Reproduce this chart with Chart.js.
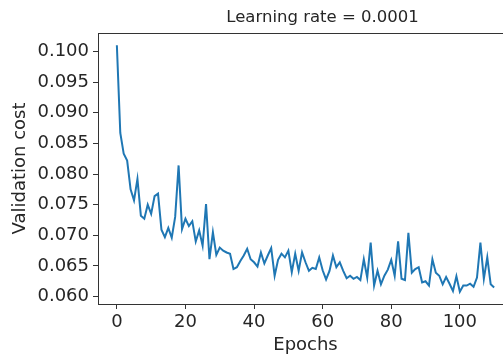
<!DOCTYPE html>
<html>
<head>
<meta charset="utf-8">
<script src="https://cdn.jsdelivr.net/npm/chart.js@4"></script>
<style>
  body { margin: 0; background: #fff; }
  #wrap { width: 503px; height: 356px; overflow: hidden; position: relative; }
  canvas { position: absolute; left: 0; top: 0; }
</style>
</head>
<body>
<div id="wrap"><canvas id="cost_chart" width="520" height="356"></canvas></div>
<script>
// validation cost per epoch, lr = 0.0001
let epochs = [];
for (let i = 0; i <= 110; i++) epochs.push(i);

let cost = [
  0.1010, 0.0867, 0.0833, 0.0822, 0.0775, 0.0757, 0.0792, 0.0732, 0.0727, 0.0750,
  0.0735, 0.0764, 0.0768, 0.0709, 0.0697, 0.0712, 0.0696, 0.0730, 0.0814, 0.0710,
  0.0727, 0.0715, 0.0723, 0.0690, 0.0708, 0.0683, 0.0751, 0.0661, 0.0705, 0.0668,
  0.0680, 0.0675, 0.0672, 0.0670, 0.0645, 0.0648, 0.0658, 0.0667, 0.0678, 0.0661,
  0.0656, 0.0649, 0.0672, 0.0654, 0.0667, 0.0679, 0.0634, 0.0660, 0.0670, 0.0664,
  0.0675, 0.0640, 0.0670, 0.0642, 0.0672, 0.0656, 0.0642, 0.0647, 0.0645, 0.0664,
  0.0643, 0.0628, 0.0642, 0.0667, 0.0648, 0.0656, 0.0642, 0.0630, 0.0634, 0.0629,
  0.0632, 0.0627, 0.0661, 0.0631, 0.0688, 0.0618, 0.0642, 0.0620, 0.0634, 0.0644,
  0.0660, 0.0634, 0.0690, 0.0629, 0.0627, 0.0704, 0.0639, 0.0645, 0.0648, 0.0623,
  0.0625, 0.0618, 0.0661, 0.0639, 0.0634, 0.0620, 0.0632, 0.0621, 0.0609, 0.0633,
  0.0608, 0.0618, 0.0618, 0.0621, 0.0616, 0.0631, 0.0688, 0.0629, 0.0664, 0.0620,
  0.0615
];

let xTicks = [0, 20, 40, 60, 80, 100];
let yTicks = [0.060, 0.065, 0.070, 0.075, 0.080, 0.085, 0.090, 0.095, 0.100];
let titleText = 'Learning rate = 0.0001';

// matplotlib-like 5% margins around the data
let xPad = (epochs[epochs.length - 1] - epochs[0]) * 0.05;
let yMin = Math.min(...cost), yMax = Math.max(...cost);
let yPad = (yMax - yMin) * 0.05;

const FONT = "'DejaVu Sans', sans-serif";
const INK = '#262626';
const SPINE = '#333';

// top/right spines plus the title above the axes
const frameBox = {
  id: 'frameBox',
  afterDraw(chart) {
    const {ctx, chartArea} = chart;
    ctx.save();
    ctx.strokeStyle = SPINE;
    ctx.lineWidth = 1;
    ctx.beginPath();
    ctx.moveTo(chartArea.left, chartArea.top + 0.5);
    ctx.lineTo(chartArea.right, chartArea.top + 0.5);
    ctx.lineTo(chartArea.right, chartArea.bottom);
    ctx.stroke();

    ctx.fillStyle = INK;
    ctx.font = "16.5px " + FONT;
    ctx.textAlign = 'center';
    ctx.textBaseline = 'middle';
    ctx.fillText(titleText, (chartArea.left + chartArea.right) / 2 + 17, 18);
    ctx.restore();
  }
};

let ctx = document.getElementById('cost_chart').getContext('2d');
let chart = new Chart(ctx, {
  type: 'line',
  data: {
    datasets: [{
      data: epochs.map((e, i) => ({x: e, y: cost[i]})),
      borderColor: '#1f77b4',
      borderWidth: 2,
      pointRadius: 0,
      tension: 0,
      fill: false
    }]
  },
  options: {
    responsive: false,
    animation: false,
    layout: { padding: { left: 0, right: 7, top: 33, bottom: 0 } },
    plugins: {
      legend: { display: false },
      tooltip: { enabled: false },
      title: { display: false }
    },
    scales: {
      x: {
        type: 'linear',
        min: epochs[0] - xPad,
        max: epochs[epochs.length - 1] + xPad,
        afterFit: s => { s.height = 52; },
        afterBuildTicks: s => { s.ticks = xTicks.map(v => ({value: v})); },
        grid: { drawOnChartArea: false, drawTicks: true, tickLength: 5, color: SPINE },
        border: { display: true, color: SPINE, width: 1 },
        ticks: { color: INK, padding: 3, maxRotation: 0, font: { family: FONT, size: 18 } },
        title: {
          display: true, text: 'Epochs', color: INK,
          font: { family: FONT, size: 18 }, padding: { top: 2, bottom: 0 }
        }
      },
      y: {
        type: 'linear',
        min: yMin - yPad,
        max: yMax + yPad,
        afterFit: s => { s.width = 98; },
        afterBuildTicks: s => { s.ticks = yTicks.map(v => ({value: v})); },
        grid: { drawOnChartArea: false, drawTicks: true, tickLength: 5, color: SPINE },
        border: { display: true, color: SPINE, width: 1 },
        ticks: {
          color: INK, padding: 4, font: { family: FONT, size: 18 },
          callback: v => v.toFixed(3)
        },
        title: {
          display: true, text: 'Validation cost', color: INK,
          font: { family: FONT, size: 18 }, padding: { top: 10, bottom: 0 }
        }
      }
    }
  },
  plugins: [frameBox]
});
</script>
</body>
</html>
